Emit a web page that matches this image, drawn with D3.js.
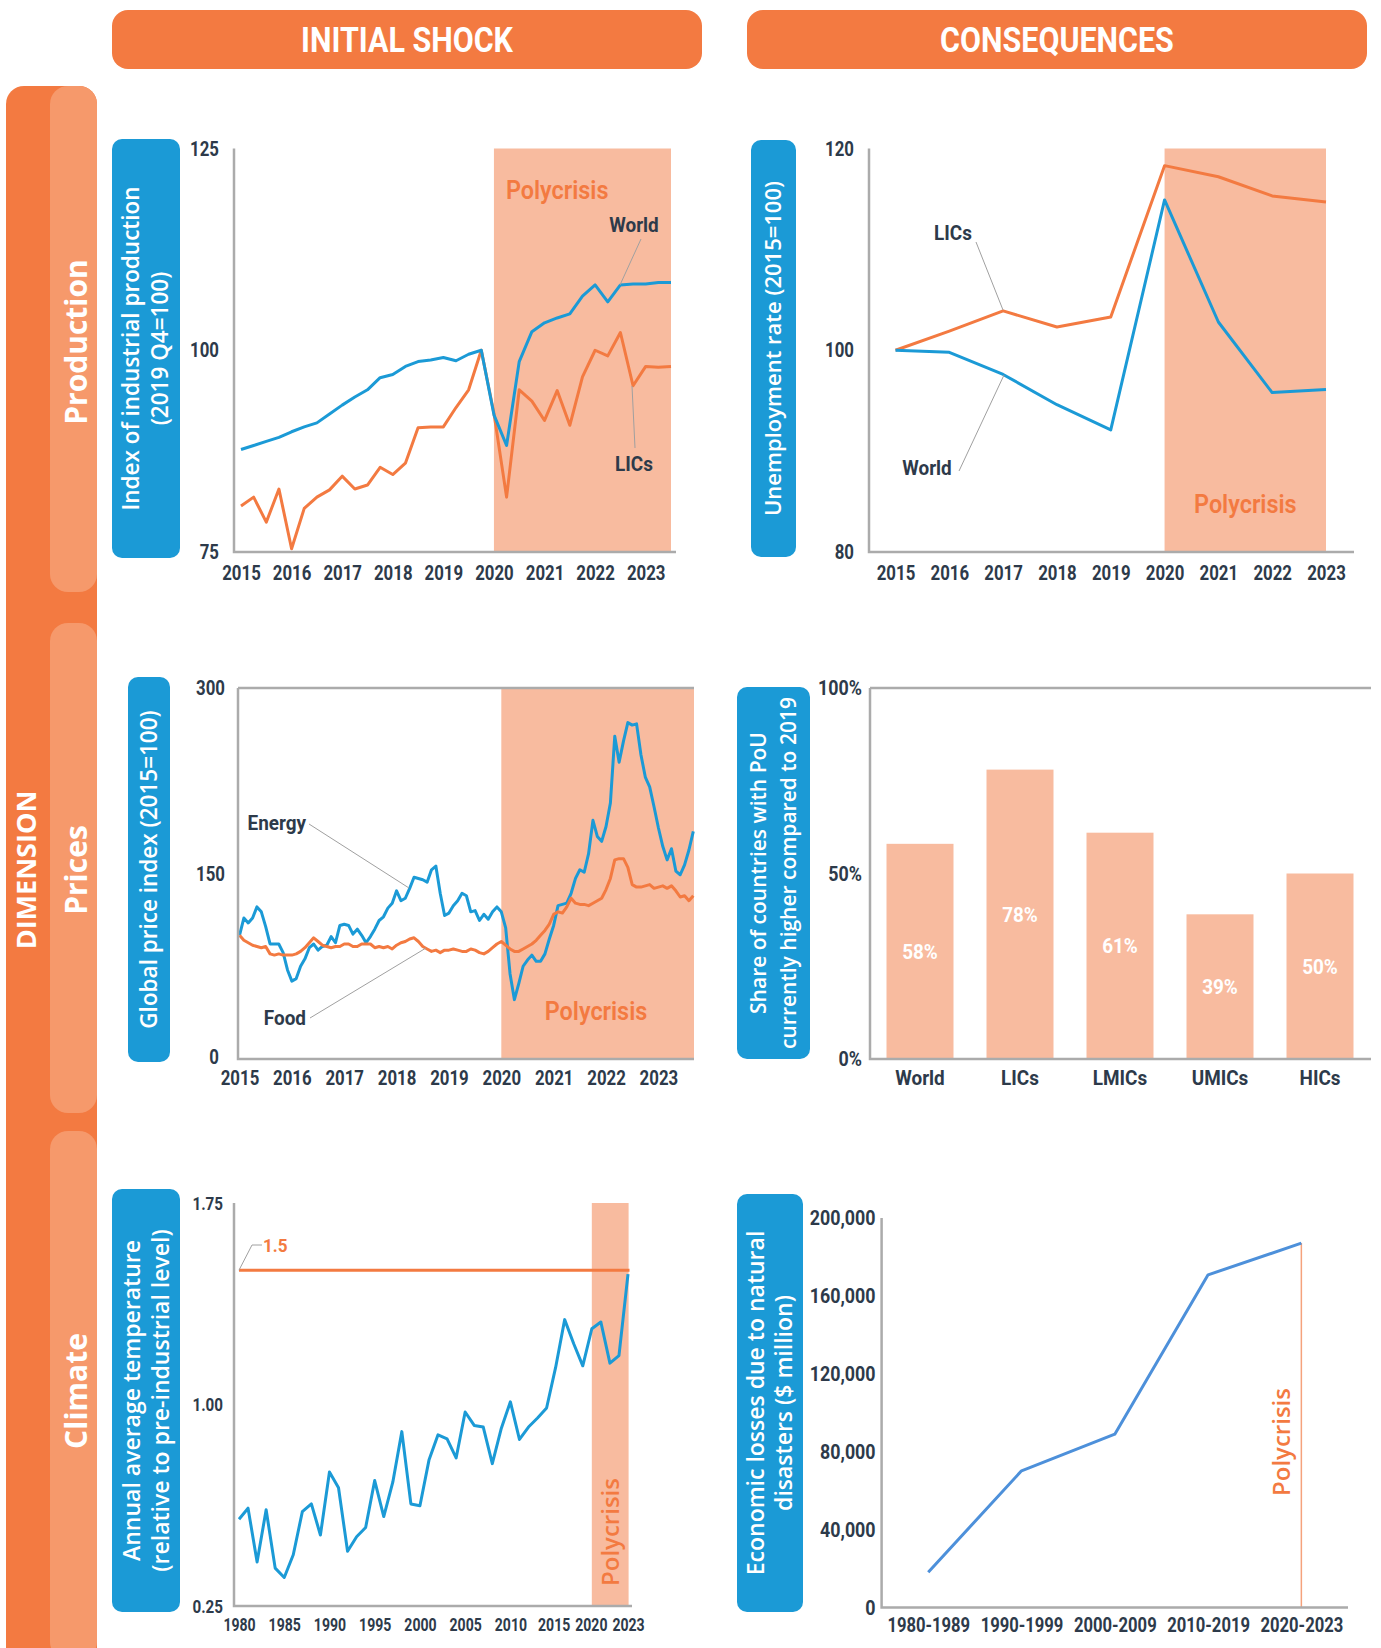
<!DOCTYPE html>
<html>
<head>
<meta charset="utf-8">
<script src="https://cdn.jsdelivr.net/npm/d3@7"></script>
<style>
  html, body { margin: 0; padding: 0; background: #fff; }
  svg { display: block; }
</style>
</head>
<body>
<div id="container"></div>
<script>
// ---------- data ----------
const headers = ["INITIAL SHOCK", "CONSEQUENCES"];
const dimensionTitle = "DIMENSION";
const dimensions = ["Production", "Prices", "Climate"];

// industrial production, quarterly from 2015 Q1 (2019 Q4 = 100)
const prodWorld = [87.7, 88.2, 88.7, 89.2, 89.9, 90.5, 91.0, 92.1, 93.2, 94.2, 95.1, 96.6, 97.0, 98.0, 98.6, 98.8, 99.1, 98.7, 99.5, 100.0,
  92.0, 88.2, 98.6, 102.3, 103.4, 104.0, 104.5, 106.7, 108.1, 106.0, 108.1, 108.2, 108.2, 108.4, 108.4];
const prodLICs = [80.7, 81.8, 78.7, 82.8, 75.4, 80.4, 81.8, 82.7, 84.4, 82.8, 83.3, 85.5, 84.6, 86.0, 90.4, 90.5, 90.5, 92.9, 95.1, 100.0,
  92.2, 81.8, 95.1, 93.7, 91.3, 95.0, 90.7, 96.7, 100.0, 99.3, 102.2, 95.6, 98.0, 97.9, 98.0];
const prodXTicks = [2015, 2016, 2017, 2018, 2019, 2020, 2021, 2022, 2023];
const prodYTicks = [75, 100, 125];

// unemployment rate (2015 = 100)
const unempYears = [2015, 2016, 2017, 2018, 2019, 2020, 2021, 2022, 2023];
const unempLICs = [100, 101.9, 103.9, 102.3, 103.3, 118.3, 117.2, 115.3, 114.7];
const unempWorld = [100, 99.8, 97.6, 94.6, 92.1, 114.9, 102.8, 95.8, 96.1];
const unempYTicks = [80, 100, 120];

// global price index, monthly from Jan 2015 (2015 = 100)
const priceEnergy = [100, 114, 110, 114, 123, 119, 107, 93, 93, 93,
  86, 72, 63, 65, 75, 81, 90, 93, 88, 91,
  92, 99, 94, 108, 109, 108, 101, 105, 100, 94,
  99, 105, 112, 115, 122, 126, 136, 128, 130, 138,
  147, 146, 145, 143, 153, 156, 134, 116, 118, 124,
  128, 134, 132, 119, 120, 112, 117, 113, 119, 123,
  119, 106, 69, 48, 61, 75, 80, 84, 79, 79,
  85, 97, 108, 124, 125, 126, 134, 146, 153, 151,
  166, 193, 180, 176, 188, 207, 261, 240, 257, 272,
  270, 271, 246, 228, 220, 204, 187, 172, 161, 170,
  152, 149, 157, 169, 184];
const priceFood = [100, 96, 94, 92, 91, 90, 91, 85, 84, 85,
  84, 84, 84, 85, 87, 90, 94, 98, 95, 92,
  91, 90, 91, 91, 93, 93, 91, 91, 93, 93,
  93, 90, 91, 90, 91, 89, 92, 94, 95, 97,
  98, 95, 91, 89, 87, 88, 86, 88, 88, 89,
  88, 87, 87, 89, 88, 86, 85, 87, 90, 93,
  95, 92, 89, 87, 87, 89, 91, 93, 96, 100,
  104, 109, 117, 119, 118, 123, 130, 126, 125, 125,
  124, 126, 128, 130, 137, 146, 161, 162, 162, 155,
  141, 139, 139, 140, 141, 138, 139, 140, 138, 140,
  136, 131, 132, 128, 132];
const priceYears = ["2015", "2016", "2017", "2018", "2019", "2020", "2021", "2022", "2023"];
const priceYTicks = [0, 150, 300];

// share of countries with PoU currently higher than 2019 (%)
const pouCategories = ["World", "LICs", "LMICs", "UMICs", "HICs"];
const pouValues = [58, 78, 61, 39, 50];
const pouYTicks = [0, 50, 100];

// annual average temperature relative to pre-industrial level
const tempStart = 1980;
const tempValues = [0.573, 0.614, 0.414, 0.608, 0.391, 0.356, 0.441, 0.601, 0.630, 0.514,
  0.749, 0.690, 0.454, 0.508, 0.542, 0.717, 0.583, 0.711, 0.899, 0.630,
  0.623, 0.793, 0.887, 0.872, 0.801, 0.972, 0.922, 0.916, 0.780, 0.912,
  1.010, 0.870, 0.916, 0.950, 0.987, 1.138, 1.316, 1.226, 1.144, 1.282,
  1.307, 1.154, 1.182, 1.485];
const tempLimit = 1.5;
const tempXTicks = [1980, 1985, 1990, 1995, 2000, 2005, 2010, 2015, 2020, 2023];
const tempYTicks = [0.25, 1.0, 1.75];

// economic losses due to natural disasters ($ million)
const lossPeriods = ["1980-1989", "1990-1999", "2000-2009", "2010-2019", "2020-2023"];
const lossValues = [18100, 70200, 89000, 170800, 187100];
const lossYTicks = [0, 40000, 80000, 120000, 160000, 200000];

// ---------- styles ----------
const W = 1381, H = 1648;
const ORANGE = "#F37A41";
const SIDE_LIGHT = "#F6996B";
const SHADE = "#F8BB9F";
const BLUE = "#1B9AD6";
const LOSS_BLUE = "#4D90DA";
const AXIS = "#ABABAB";
const INK = "#2D3A4A";
const LEADER = "#A0A0A0";
const NARROW = "'Liberation Sans Narrow', 'Arial Narrow', Roboto, sans-serif";
const SANS = "'Open Sans', 'Noto Sans', sans-serif";

const svg = d3.select("#container").append("svg")
  .attr("width", W)
  .attr("height", H)
  .attr("viewBox", `0 0 ${W} ${H}`);

svg.append("rect").attr("width", W).attr("height", H).attr("fill", "#fff");

// squeeze a text horizontally (no condensed face is installed)
function condense(sel, k) {
  sel.each(function () {
    const len = this.getComputedTextLength();
    d3.select(this).attr("textLength", len * k).attr("lengthAdjust", "spacingAndGlyphs");
  });
  return sel;
}

// header tabs
const headerBoxes = [{ x: 112, w: 590 }, { x: 747, w: 620 }];
headers.forEach((t, i) => {
  const b = headerBoxes[i];
  svg.append("rect")
    .attr("x", b.x).attr("y", 10).attr("width", b.w).attr("height", 59)
    .attr("rx", 16).attr("fill", ORANGE);
  svg.append("text")
    .attr("x", b.x + b.w / 2).attr("y", 40).attr("dy", "0.35em")
    .attr("text-anchor", "middle").attr("fill", "#fff")
    .attr("font-family", NARROW).attr("font-weight", 700).attr("font-size", 35)
    .text(t)
    .call(s => condense(s, 0.87));
});

// side bar
svg.append("rect")
  .attr("x", 6).attr("y", 86).attr("width", 91).attr("height", 1640)
  .attr("rx", 18).attr("fill", ORANGE);

const dimBands = [[86, 592], [623, 1113], [1131, 1660]];
const dimCentres = [342, 870, 1391];
dimBands.forEach((b, i) => {
  svg.append("rect")
    .attr("x", 50).attr("y", b[0]).attr("width", 47).attr("height", b[1] - b[0])
    .attr("rx", 18).attr("fill", SIDE_LIGHT);
  svg.append("text")
    .attr("transform", `translate(76,${dimCentres[i]}) rotate(-90)`)
    .attr("dy", "0.35em").attr("text-anchor", "middle").attr("fill", "#fff")
    .attr("font-family", SANS).attr("font-weight", 700).attr("font-size", 30)
    .text(dimensions[i]);
});

svg.append("text")
  .attr("transform", "translate(27,870) rotate(-90)")
  .attr("dy", "0.35em").attr("text-anchor", "middle").attr("fill", "#fff")
  .attr("font-family", SANS).attr("font-weight", 700).attr("font-size", 27)
  .text(dimensionTitle);

// ---------- helpers ----------
function labelBox(x0, y0, x1, y1, lines, size, gap = 29) {
  svg.append("rect")
    .attr("x", x0).attr("y", y0).attr("width", x1 - x0).attr("height", y1 - y0)
    .attr("rx", 10).attr("fill", BLUE);
  const t = svg.append("text")
    .attr("transform", `translate(${(x0 + x1) / 2},${(y0 + y1) / 2}) rotate(-90)`)
    .attr("text-anchor", "middle").attr("fill", "#fff")
    .attr("font-family", SANS).attr("font-weight", 600).attr("font-size", size);
  lines.forEach((l, i) => {
    t.append("tspan")
      .attr("x", 0)
      .attr("y", (i - (lines.length - 1) / 2) * gap)
      .attr("dy", "0.35em")
      .text(l);
  });
}

function axisFrame(x0, yTop, yBottom, xRight) {
  svg.append("path")
    .attr("d", `M${x0},${yTop}V${yBottom}H${xRight}`)
    .attr("fill", "none").attr("stroke", AXIS).attr("stroke-width", 2.5);
}

function styleTicks(g, size, k = 0.8) {
  g.select(".domain").remove();
  g.selectAll("text")
    .attr("fill", INK)
    .attr("font-family", NARROW)
    .attr("font-weight", 700)
    .attr("font-size", size)
    .call(s => condense(s, k));
}

function chartLabel(x, y, text, anchor = "middle", color = INK, size = 21, weight = 700) {
  return svg.append("text")
    .attr("x", x).attr("y", y).attr("dy", "0.35em")
    .attr("text-anchor", anchor).attr("fill", color)
    .attr("font-family", NARROW).attr("font-weight", weight).attr("font-size", size)
    .text(text)
    .call(s => condense(s, 0.9));
}

function leader(points) {
  svg.append("path")
    .attr("d", d3.line()(points))
    .attr("fill", "none").attr("stroke", LEADER).attr("stroke-width", 1);
}

function drawLine(data, x, y, color, width = 3) {
  svg.append("path")
    .datum(data)
    .attr("d", d3.line().x(x).y(y))
    .attr("fill", "none").attr("stroke", color)
    .attr("stroke-width", width).attr("stroke-linejoin", "round");
}

// ---------- Production ----------
labelBox(112, 139, 180, 558, ["Index of industrial production", "(2019 Q4=100)"], 22.5, 29);

const aX = d3.scaleLinear().domain([2015, 2023.5]).range([241, 671]);
const aY = d3.scaleLinear().domain([75, 125]).range([552, 148.5]);

svg.append("rect")
  .attr("x", aX(2020)).attr("y", aY(125))
  .attr("width", aX(2023.5) - aX(2020)).attr("height", aY(75) - aY(125))
  .attr("fill", SHADE);
chartLabel(aX(2020) + 12, 190, "Polycrisis", "start", ORANGE, 26, 600);

drawLine(prodLICs, (d, i) => aX(2015 + i / 4), d => aY(d), ORANGE);
drawLine(prodWorld, (d, i) => aX(2015 + i / 4), d => aY(d), BLUE);

axisFrame(234, 148.5, 552, 676);
svg.append("g").attr("transform", "translate(0,552)")
  .call(d3.axisBottom(aX).tickValues(prodXTicks).tickFormat(d3.format("d")).tickSize(0).tickPadding(13))
  .call(g => styleTicks(g, 21));
svg.append("g").attr("transform", "translate(234,0)")
  .call(d3.axisLeft(aY).tickValues(prodYTicks).tickSize(0).tickPadding(15))
  .call(g => styleTicks(g, 21));

chartLabel(634, 225, "World");
leader([[641, 239], [620, 285]]);
chartLabel(634, 464, "LICs");
leader([[635, 448], [632, 386]]);

// ---------- Unemployment ----------
labelBox(751, 140, 796, 557, ["Unemployment rate (2015=100)"], 22);

const bX = d3.scaleLinear().domain([2015, 2023]).range([895.5, 1326]);
const bY = d3.scaleLinear().domain([80, 120]).range([552, 148.5]);

svg.append("rect")
  .attr("x", bX(2020)).attr("y", bY(120))
  .attr("width", bX(2023) - bX(2020)).attr("height", bY(80) - bY(120))
  .attr("fill", SHADE);
chartLabel((bX(2020) + bX(2023)) / 2, 504, "Polycrisis", "middle", ORANGE, 26, 600);

drawLine(unempLICs, (d, i) => bX(unempYears[i]), d => bY(d), ORANGE);
drawLine(unempWorld, (d, i) => bX(unempYears[i]), d => bY(d), BLUE);

axisFrame(869, 148.5, 552, 1354);
svg.append("g").attr("transform", "translate(0,552)")
  .call(d3.axisBottom(bX).tickValues(unempYears).tickFormat(d3.format("d")).tickSize(0).tickPadding(13))
  .call(g => styleTicks(g, 21));
svg.append("g").attr("transform", "translate(869,0)")
  .call(d3.axisLeft(bY).tickValues(unempYTicks).tickSize(0).tickPadding(15))
  .call(g => styleTicks(g, 21));

chartLabel(953, 233, "LICs");
leader([[976, 242], [1003, 310]]);
chartLabel(927, 468, "World");
leader([[959, 471], [1004, 375]]);

// ---------- Prices ----------
labelBox(128, 677, 170, 1062, ["Global price index (2015=100)"], 22.5);

const cX = d3.scaleLinear().domain([0, priceEnergy.length - 1]).range([239.5, 693.3]);
const cY = d3.scaleLinear().domain([0, 300]).range([1059, 688]);

svg.append("rect")
  .attr("x", cX(60)).attr("y", cY(300))
  .attr("width", 694 - cX(60)).attr("height", cY(0) - cY(300))
  .attr("fill", SHADE);
chartLabel(596, 1011, "Polycrisis", "middle", ORANGE, 26, 600);

drawLine(priceEnergy, (d, i) => cX(i), d => cY(d), BLUE);
drawLine(priceFood, (d, i) => cX(i), d => cY(d), ORANGE);

axisFrame(238, 688, 1059, 694);
svg.append("line")
  .attr("x1", 238).attr("x2", 694).attr("y1", 688).attr("y2", 688)
  .attr("stroke", AXIS).attr("stroke-width", 2.5);
svg.append("g").attr("transform", "translate(0,1059)")
  .call(d3.axisBottom(cX).tickValues(priceYears.map((d, i) => i * 12))
    .tickFormat((d, i) => priceYears[i]).tickSize(0).tickPadding(11))
  .call(g => styleTicks(g, 21));
svg.append("g").attr("transform", "translate(238,0)")
  .call(d3.axisLeft(cY).tickValues(priceYTicks).tickSize(0).tickPadding(13))
  .call(g => styleTicks(g, 21))
  .call(g => g.selectAll(".tick text").filter(d => d === 0).attr("dx", -6).attr("dy", "0.2em"));

chartLabel(306, 823, "Energy", "end");
leader([[309, 824], [409, 888]]);
chartLabel(306, 1018, "Food", "end");
leader([[310, 1018], [426, 948]]);

// ---------- PoU bars ----------
labelBox(737, 687, 810, 1059, ["Share of countries with PoU", "currently higher compared to 2019"], 21, 30);

const dX = d3.scaleBand().domain(pouCategories).range([870, 1370]).paddingInner(0.33).paddingOuter(0.165);
const dY = d3.scaleLinear().domain([0, 100]).range([1059, 688]);

svg.append("g").selectAll("rect")
  .data(pouValues)
  .join("rect")
  .attr("x", (d, i) => dX(pouCategories[i]))
  .attr("y", d => dY(d))
  .attr("width", dX.bandwidth())
  .attr("height", d => dY(0) - dY(d))
  .attr("fill", SHADE);

svg.append("g").selectAll("text")
  .data(pouValues)
  .join("text")
  .attr("x", (d, i) => dX(pouCategories[i]) + dX.bandwidth() / 2)
  .attr("y", d => (dY(d) + dY(0)) / 2)
  .attr("dy", "0.35em")
  .attr("text-anchor", "middle")
  .attr("fill", "#fff")
  .attr("font-family", NARROW).attr("font-weight", 700).attr("font-size", 21)
  .text(d => d + "%")
  .call(s => condense(s, 0.9));

axisFrame(870, 688, 1059, 1371);
svg.append("line")
  .attr("x1", 870).attr("x2", 1371).attr("y1", 688).attr("y2", 688)
  .attr("stroke", AXIS).attr("stroke-width", 2.5);
svg.append("g").attr("transform", "translate(0,1059)")
  .call(d3.axisBottom(dX).tickSize(0).tickPadding(11))
  .call(g => styleTicks(g, 21, 0.9));
svg.append("g").attr("transform", "translate(870,0)")
  .call(d3.axisLeft(dY).tickValues(pouYTicks).tickFormat(d => d + "%").tickSize(0).tickPadding(8))
  .call(g => styleTicks(g, 21, 0.85));

// ---------- Climate ----------
labelBox(112, 1189, 180, 1612, ["Annual average temperature", "(relative to pre-industrial level)"], 23, 29);

const eX = d3.scaleLinear().domain([1980, 2023]).range([239, 628]);
const eY = d3.scaleLinear().domain([0.25, 1.75]).range([1606, 1203]);

svg.append("rect")
  .attr("x", eX(2019)).attr("y", eY(1.75))
  .attr("width", eX(2023) - eX(2019) + 0.6).attr("height", eY(0.25) - eY(1.75))
  .attr("fill", SHADE);
svg.append("text")
  .attr("transform", "translate(611,1532) rotate(-90)")
  .attr("dy", "0.35em").attr("text-anchor", "middle").attr("fill", ORANGE)
  .attr("font-family", SANS).attr("font-weight", 600).attr("font-size", 24)
  .text("Polycrisis");

svg.append("line")
  .attr("x1", eX(1980)).attr("x2", eX(2023) + 1.5)
  .attr("y1", eY(tempLimit)).attr("y2", eY(tempLimit))
  .attr("stroke", ORANGE).attr("stroke-width", 3);
leader([[eX(1980), eY(tempLimit)], [252, 1245], [262, 1245]]);
chartLabel(263, 1245, String(tempLimit), "start", ORANGE, 19);

drawLine(tempValues, (d, i) => eX(tempStart + i), d => eY(d), BLUE);

axisFrame(234, 1203, 1606, 632);
svg.append("g").attr("transform", "translate(0,1606)")
  .call(d3.axisBottom(eX).tickValues(tempXTicks).tickFormat(d3.format("d")).tickSize(0).tickPadding(12))
  .call(g => styleTicks(g, 18, 0.78))
  .call(g => g.selectAll(".tick text").filter(d => d === 2020).attr("dx", -10))
  .call(g => g.selectAll(".tick text").filter(d => d === 2015).attr("dx", -2));
svg.append("g").attr("transform", "translate(234,0)")
  .call(d3.axisLeft(eY).tickValues(tempYTicks).tickFormat(d3.format(".2f")).tickSize(0).tickPadding(11))
  .call(g => styleTicks(g, 19));

// ---------- Losses ----------
labelBox(737, 1194, 803, 1612, ["Economic losses due to natural", "disasters ($ million)"], 23, 28.5);

const fX = d3.scalePoint().domain(lossPeriods).range([881.6, 1348]).padding(0.5);
const fY = d3.scaleLinear().domain([0, 200000]).range([1607.5, 1218]);

const lastPeriod = lossPeriods[lossPeriods.length - 1];
svg.append("line")
  .attr("x1", fX(lastPeriod)).attr("x2", fX(lastPeriod))
  .attr("y1", fY(lossValues[lossValues.length - 1])).attr("y2", fY(0))
  .attr("stroke", "#F5A27C").attr("stroke-width", 1.5);
svg.append("text")
  .attr("transform", "translate(1282,1442) rotate(-90)")
  .attr("dy", "0.35em").attr("text-anchor", "middle").attr("fill", ORANGE)
  .attr("font-family", SANS).attr("font-weight", 600).attr("font-size", 24)
  .text("Polycrisis");

drawLine(lossValues, (d, i) => fX(lossPeriods[i]), d => fY(d), LOSS_BLUE);

axisFrame(881.6, 1218, 1607.5, 1348);
svg.append("g").attr("transform", "translate(0,1607.5)")
  .call(d3.axisBottom(fX).tickSize(0).tickPadding(10))
  .call(g => styleTicks(g, 20, 0.83));
svg.append("g").attr("transform", "translate(881.6,0)")
  .call(d3.axisLeft(fY).tickValues(lossYTicks).tickFormat(d3.format(",")).tickSize(0).tickPadding(6))
  .call(g => styleTicks(g, 21, 0.85));
</script>
</body>
</html>
